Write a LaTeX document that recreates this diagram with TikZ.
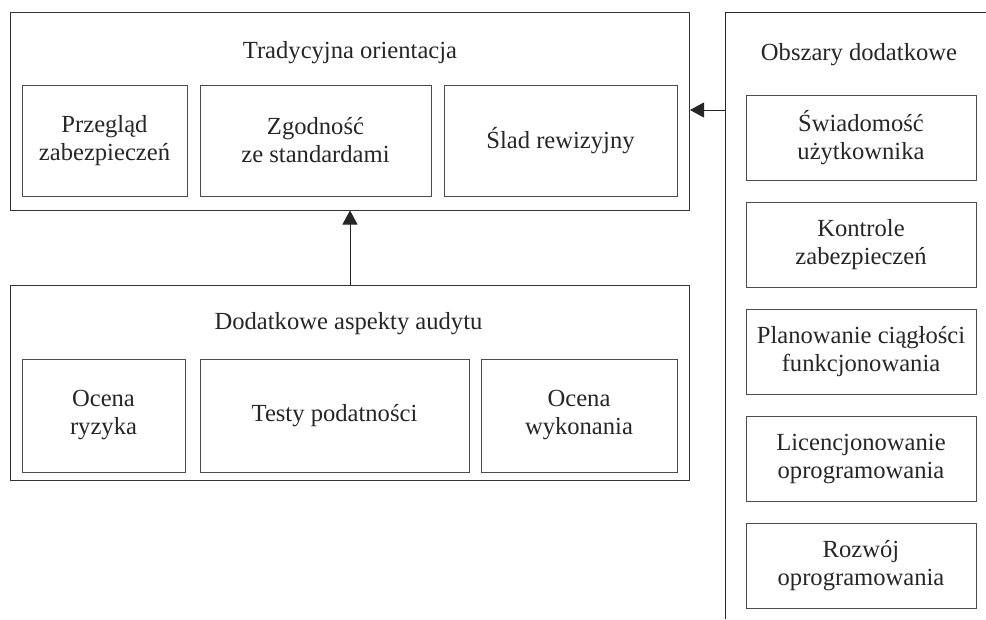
\documentclass[tikz,border=0pt]{standalone}
\usepackage{fontspec}
\setmainfont{Liberation Serif}
\usetikzlibrary{arrows.meta}

\begin{document}
\begin{tikzpicture}[x=1pt, y=-1pt, >={Triangle[length=14pt,width=15pt]},
  every node/.style={font=\fontsize{24.6}{28}\selectfont, text=black!85},
  panel/.style={draw=black!80, line width=1pt, inner sep=0pt},
  item/.style={draw=black!70, line width=1pt, align=center, inner sep=0pt}]
\useasboundingbox (0,0) rectangle (986,619);
% tradycyjna orientacja
\node[panel, minimum width=679pt, minimum height=198pt] (trad) at (350,111) {};
\node[anchor=base] (tradtitle) at (350,58) {Tradycyjna orientacja};
\node[item, minimum width=165pt, minimum height=111pt] (przeglad) at (104.5,140.5) {Przegląd\\zabezpieczeń};
\node[item, minimum width=231pt, minimum height=111pt] (zgodnosc) at (315.5,140.5) {Zgodność\\ze standardami};
\node[item, minimum width=233pt, minimum height=111pt] (slad) at (560.5,140.5) {Ślad rewizyjny};
% dodatkowe aspekty
\node[panel, minimum width=679pt, minimum height=195pt] (aspekty) at (350,382.5) {};
\node[anchor=base] (aspektytitle) at (348.5,329) {Dodatkowe aspekty audytu};
\node[item, minimum width=163pt, minimum height=113pt] (ryzyko) at (103.5,415.5) {Ocena\\ryzyka};
\node[item, minimum width=269pt, minimum height=113pt] (testy) at (334.5,415.5) {};
\node[anchor=base] (testytext) at (334.5,421) {Testy podatności};
\node[item, minimum width=196pt, minimum height=113pt] (wykonanie) at (579,415.5) {Ocena\\wykonania};
% obszary dodatkowe
\draw[draw=black!85, line width=1pt] (725,619) -- (725,12) -- (986,12);
\coordinate (obszary) at (725,110);
\node[anchor=base] (obszarytitle) at (859,60) {Obszary dodatkowe};
\node[item, minimum width=230pt, minimum height=85pt] (swiadomosc) at (861,137.5) {Świadomość\\użytkownika};
\node[item, minimum width=230pt, minimum height=85pt] (kontrole) at (861,244.5) {Kontrole\\zabezpieczeń};
\node[item, minimum width=230pt, minimum height=85pt] (ciaglosc) at (861,351.5) {Planowanie ciągłości\\funkcjonowania};
\node[item, minimum width=230pt, minimum height=85pt] (licencje) at (861,459) {Licencjonowanie\\oprogramowania};
\node[item, minimum width=230pt, minimum height=85pt] (rozwoj) at (861,565.5) {Rozwój\\oprogramowania};
% strzalki
\draw[->, draw=black!85, line width=1pt] (aspekty) -- (trad);
\draw[->, draw=black!85, line width=1pt] (obszary) -- (obszary -| trad.east);
\end{tikzpicture}
\end{document}
